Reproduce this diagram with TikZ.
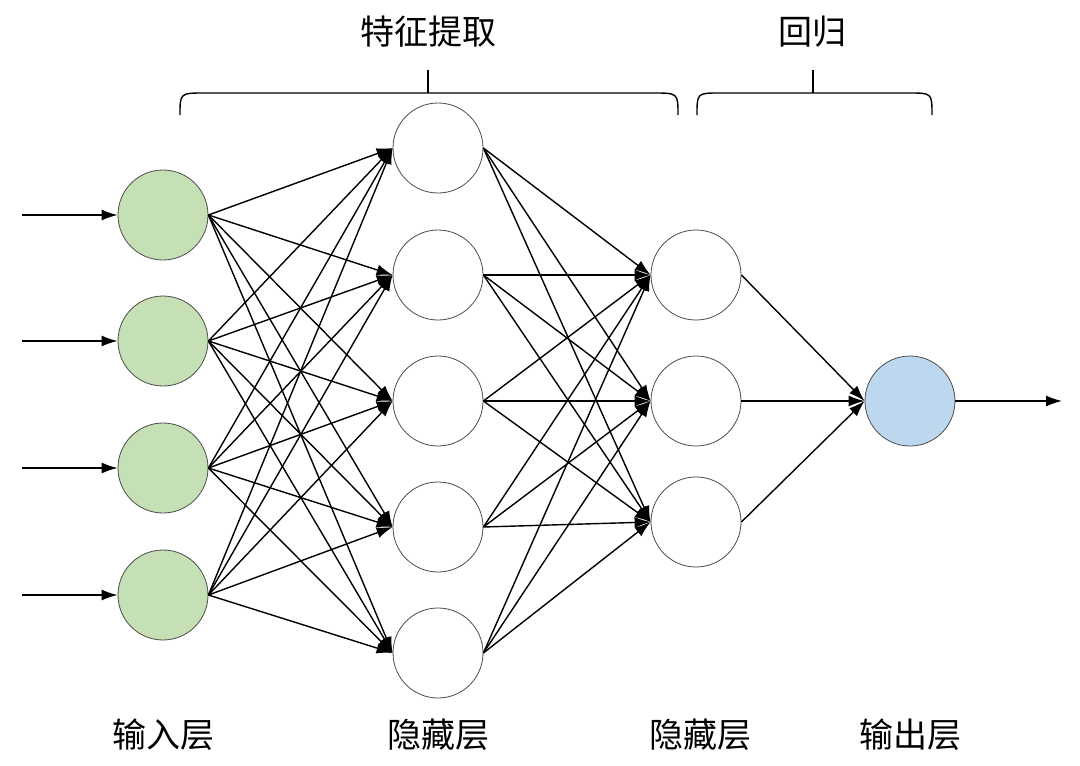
\documentclass[tikz,border=0pt]{standalone}
\usepackage{fontspec}
\setmainfont{Noto Sans CJK SC}
\usetikzlibrary{arrows.meta}
\definecolor{ingreen}{RGB}{197,224,180}
\definecolor{outblue}{RGB}{189,215,238}
\tikzset{
  neuron/.style={circle, draw=black!70, line width=0.8pt, minimum size=90pt, inner sep=0pt},
  link/.style={line width=1.4pt, -{Latex[length=16pt,width=11pt]}},
  lbl/.style={font=\fontsize{34}{38}\selectfont}
}
\begin{document}
\begin{tikzpicture}[x=1pt,y=-1pt]
\useasboundingbox (0,0) rectangle (1080,766);
% layers
\foreach \i/\y in {1/215,2/341,3/468,4/595}\node[neuron, fill=ingreen] (in\i) at (163,\y) {};
\foreach \i/\y in {1/148,2/275,3/401,4/527,5/653}\node[neuron, fill=white] (h\i) at (438,\y) {};
\foreach \i/\y in {1/275,2/401,3/522}\node[neuron, fill=white] (g\i) at (696,\y) {};
\node[neuron, fill=outblue] (out) at (910,401) {};
% connections
\foreach \i/\y in {1/215,2/341,3/468,4/595}{
  \coordinate (src\i) at (22,\y);
  \draw[link] (src\i) -- (in\i.west);
}
\foreach \i in {1,...,4}\foreach \j in {1,...,5}\draw[link] (in\i.east) -- (h\j.west);
\foreach \i in {1,...,5}\foreach \j in {1,...,3}\draw[link] (h\i.east) -- (g\j.west);
\foreach \j in {1,...,3}\draw[link] (g\j.east) -- (out.west);
\coordinate (sink) at (1062,401);
\draw[link] (out.east) -- (sink);
% braces
\draw[line width=1.4pt] (180,115) .. controls (180,93) .. (205,93) -- (653,93) .. controls (678,93) .. (678,115);
\draw[line width=1.4pt] (428,93) -- (428,70);
\draw[line width=1.4pt] (697,115) .. controls (697,93) .. (720,93) -- (909,93) .. controls (932,93) .. (932,115);
\draw[line width=1.4pt] (813,93) -- (813,70);
\node[lbl] (feat) at (428,32) {特征提取};
\node[lbl] (regr) at (812,32) {回归};
% layer names
\node[lbl] (nin) at (163,735) {输入层};
\node[lbl] (nh1) at (438,735) {隐藏层};
\node[lbl] (nh2) at (700,735) {隐藏层};
\node[lbl] (nout) at (910,735) {输出层};
\end{tikzpicture}
\end{document}
